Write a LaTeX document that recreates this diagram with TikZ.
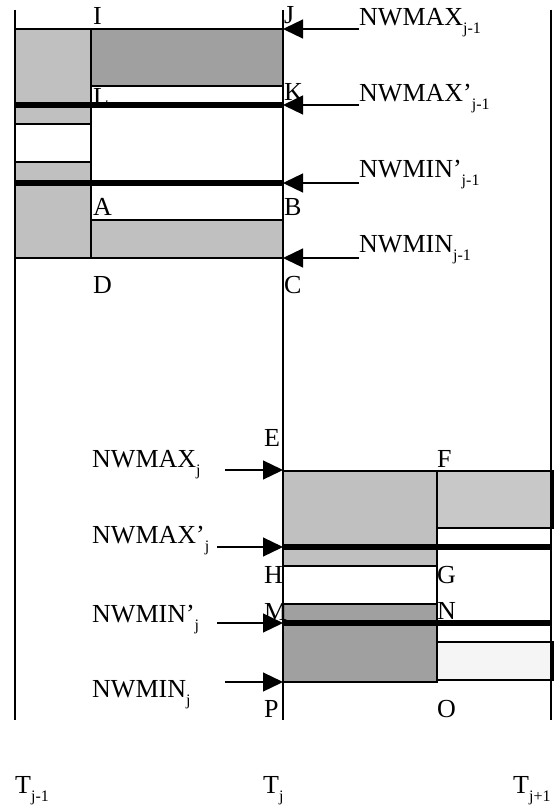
\documentclass[tikz,border=0pt]{standalone}
\usepackage{fontspec}
\setmainfont{Liberation Serif}
\usetikzlibrary{arrows.meta}
\definecolor{gA}{HTML}{C0C0C0}
\definecolor{gB}{HTML}{A0A0A0}
\definecolor{gC}{HTML}{C8C8C8}
\definecolor{gD}{HTML}{F5F5F5}
\newcommand\lsub[1]{\raisebox{-8pt}{\fontsize{16}{16}\selectfont #1}}
\tikzset{
  thinline/.style={line width=1.3pt, draw=black},
  thickline/.style={line width=6.5pt, draw=black},
  ptr/.style={line width=1.3pt, -{Triangle[length=20pt,width=19pt]}},
  lbl/.style={anchor=base west, inner sep=0pt, font=\fontsize{26}{29}\selectfont},
}
\begin{document}
\begin{tikzpicture}[x=1pt,y=-1pt]
\useasboundingbox (0,0) rectangle (557,809);
% ---- top block
\filldraw[thinline, fill=gA] (15,29) rectangle (91,124);
\filldraw[thinline, fill=gA] (15,162) rectangle (91,258);
\filldraw[thinline, fill=gB] (91,29) rectangle (283,86);
\draw[thinline] (91,86) rectangle (283,105);
\filldraw[thinline, fill=gA] (91,220) rectangle (283,258);
\draw[thinline] (91,29) -- (91,258);
% ---- bottom block
\filldraw[thinline, fill=gA] (283,471) rectangle (437,566);
\filldraw[thinline, fill=gC] (437,471) rectangle (553,528);
\filldraw[thinline, fill=gB] (283,604) rectangle (437,682);
\filldraw[thinline, fill=gD] (437,642) rectangle (553,680);
\draw[thinline] (437,471) -- (437,682);
% ---- time lines
\draw[thinline] (15,10) -- (15,720);
\draw[thinline] (283,10) -- (283,720);
\draw[thinline] (551,10) -- (551,720);
% ---- point labels
\node[lbl] (I) at (93,24) {I};
\node[lbl] (J) at (284,23) {J};
\node[lbl] (L) at (93,105) {L};
\node[lbl] (K) at (284,100) {K};
\node[lbl] (A) at (93,215) {A};
\node[lbl] (B) at (284,215) {B};
\node[lbl] (D) at (93,293) {D};
\node[lbl] (C) at (284,293) {C};
\node[lbl] (E) at (264,446) {E};
\node[lbl] (H) at (264,583) {H};
\node[lbl] (M) at (264,620) {M};
\node[lbl] (P) at (264,717) {P};
\node[lbl] (F) at (437,467) {F};
\node[lbl] (G) at (437,583) {G};
\node[lbl] (N) at (437,619) {N};
\node[lbl] (O) at (437,717) {O};
% ---- thick level lines
\draw[thickline] (15,105) -- (283,105);
\draw[thickline] (15,183) -- (283,183);
\draw[thickline] (283,547) -- (551,547);
\draw[thickline] (283,623) -- (551,623);
% ---- level names
\node[lbl] (t1) at (359,25) {NWMAX\lsub{j-1}};
\node[lbl] (t2) at (359,101) {NWMAX’\lsub{j-1}};
\node[lbl] (t3) at (359,177) {NWMIN’\lsub{j-1}};
\node[lbl] (t4) at (359,252) {NWMIN\lsub{j-1}};
\node[lbl] (b1) at (92,467) {NWMAX\lsub{j}};
\node[lbl] (b2) at (92,543) {NWMAX’\lsub{j}};
\node[lbl] (b3) at (92,622) {NWMIN’\lsub{j}};
\node[lbl] (b4) at (92,697) {NWMIN\lsub{j}};
% ---- arrows
\coordinate (s1) at (359,29);  \coordinate (e1) at (283,29);
\coordinate (s2) at (359,105); \coordinate (e2) at (283,105);
\coordinate (s3) at (359,183); \coordinate (e3) at (283,183);
\coordinate (s4) at (359,258); \coordinate (e4) at (283,258);
\coordinate (s5) at (225,470); \coordinate (e5) at (283,470);
\coordinate (s6) at (217,547); \coordinate (e6) at (283,547);
\coordinate (s7) at (217,623); \coordinate (e7) at (283,623);
\coordinate (s8) at (225,682); \coordinate (e8) at (283,682);
\foreach \i in {1,...,8} { \draw[ptr] (s\i) -- (e\i); }
% ---- time labels
\node[lbl] (T1) at (15,793) {T\lsub{j-1}};
\node[lbl] (T2) at (263,793) {T\lsub{j}};
\node[lbl] (T3) at (513,793) {T\lsub{j+1}};
\end{tikzpicture}
\end{document}
